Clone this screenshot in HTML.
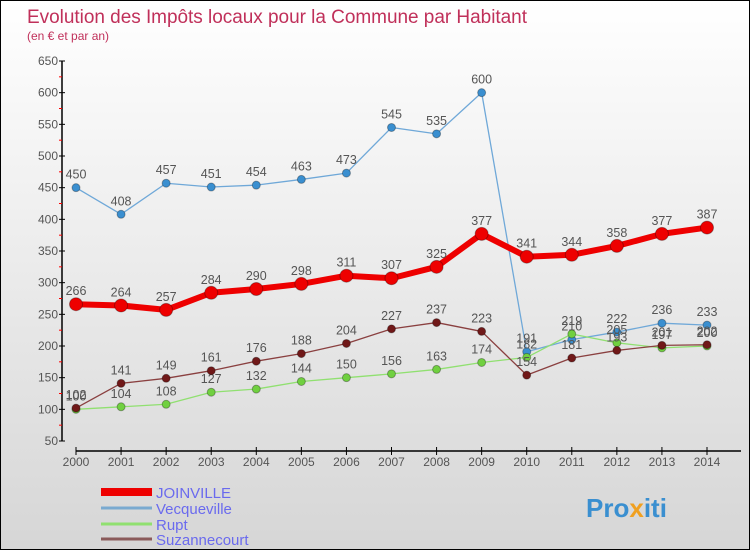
<!DOCTYPE html>
<html><head><meta charset="utf-8"><style>
body{margin:0;}
#c{width:748px;height:548px;border:1px solid #000;background:linear-gradient(#ffffff,#d6d6d6);position:relative;overflow:hidden;font-family:"Liberation Sans",sans-serif;}
svg{position:absolute;left:0;top:0}
</style></head><body>
<div id="c">
<svg id="s" width="748" height="548">
<text x="26" y="22" font-size="19" fill="#c0305a" textLength="500">Evolution des Impôts locaux pour la Commune par Habitant</text>
<text x="26" y="39" font-size="12" fill="#c0305a">(en € et par an)</text>
<g id="g"></g>
<text x="585" y="516" font-size="26" font-weight="bold" fill="#3a8fd0">Pro<tspan fill="#f0a020">x</tspan>iti</text>
</svg>
</div>
<script>
const years=[2000,2001,2002,2003,2004,2005,2006,2007,2008,2009,2010,2011,2012,2013,2014];
const yTicks=[50,100,150,200,250,300,350,400,450,500,550,600,650];
const joinville=[266,264,257,284,290,298,311,307,325,377,341,344,358,377,387];
const vecqueville=[450,408,457,451,454,463,473,545,535,600,191,210,222,236,233];
const rupt=[100,104,108,127,132,144,150,156,163,174,182,219,205,197,200];
const suzannecourt=[102,141,149,161,176,188,204,227,237,223,154,181,193,201,202];
const seriesNames=["JOINVILLE","Vecqueville","Rupt","Suzannecourt"];
const NS="http://www.w3.org/2000/svg";
const g=document.getElementById('g');
const X=i=>75+i*(706-75)/(years.length-1);
const Y=v=>60+(650-v)*380/600;
function mk(t,a,p){const e=document.createElementNS(NS,t);for(const k in a)e.setAttribute(k,a[k]);(p||g).appendChild(e);return e;}
let ya=mk('line',{x1:61,y1:60,x2:61,y2:440,stroke:'#000','stroke-width':1.5});


let xa=mk('line',{x1:75,y1:450,x2:740,y2:450,stroke:'#000','stroke-width':1.5});


yTicks.forEach((v,i)=>{
 mk('line',{x1:58,y1:Y(v),x2:64,y2:Y(v),stroke:'#000'});
 if(i<yTicks.length-1) mk('line',{x1:58,y1:Y(v+25),x2:61,y2:Y(v+25),stroke:'#f00'});
 const t=mk('text',{x:57,y:Y(v)+4,'text-anchor':'end','font-size':12,fill:'#555'});
 t.textContent=v;
 
 
});
years.forEach((y,i)=>{
 mk('line',{x1:X(i),y1:446,x2:X(i),y2:454,stroke:'#000'});
 const t=mk('text',{x:X(i),y:465,'text-anchor':'middle','font-size':12,fill:'#555'});
 t.textContent=y;
 
 
});
function draw(data,name,color,w,r,fill){
 const pts=data.map((v,i)=>X(i)+','+Y(v)).join(' ');
 const l=mk('polyline',{points:pts,fill:'none',stroke:color,'stroke-width':w,'stroke-linejoin':'round'});
 
 
 data.forEach((v,i)=>{
  const c=mk('circle',{cx:X(i),cy:Y(v),r:r,fill:fill,stroke:'rgba(0,0,0,0.3)'});
  
  
  const t=mk('text',{x:X(i),y:Y(v)-9,'text-anchor':'middle','font-size':12.5,fill:'#555'});
  t.textContent=v;
  
  
 });
}
draw(vecqueville,'vecqueville','#6fa8d8',1.3,4,'#3a8fd0');
draw(rupt,'rupt','#90e070',1.3,4,'#70d040');
draw(suzannecourt,'suzannecourt','#8a4040',1.3,4,'#701818');
draw(joinville,'joinville','#ee0000',6,6.5,'#ee0000');
const lc=['#ee0000','#7aaad0','#90e070','#8a5a5a'],lw=[8,3,3,3],ly=[491,507,523,538];
seriesNames.forEach((n,i)=>{
 const l=mk('line',{x1:100,y1:ly[i],x2:151,y2:ly[i],stroke:lc[i],'stroke-width':lw[i]});
 
 
 const t=mk('text',{x:155,y:ly[i]+6,'font-size':15,fill:'#6a6aee'});
 t.textContent=n;
 
 
});
</script>
</body></html>
